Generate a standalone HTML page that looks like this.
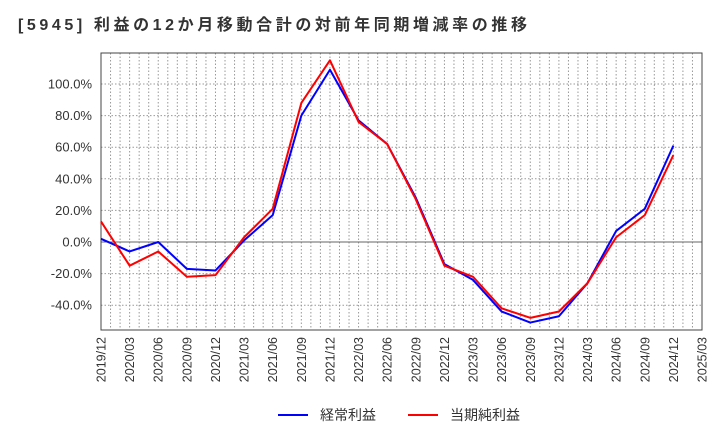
<!DOCTYPE html>
<html><head><meta charset="utf-8"><style>
body{margin:0;background:#fff;font-family:"Liberation Sans","Noto Sans CJK JP",sans-serif}
</style></head><body>
<svg id="c" width="720" height="440" xmlns="http://www.w3.org/2000/svg">
<text x="18" y="30" font-size="16" font-weight="bold" fill="#333" textLength="509" lengthAdjust="spacing" font-family="Liberation Sans,Noto Sans CJK JP,sans-serif">[5945]  利益の12か月移動合計の対前年同期増減率の推移</text>
<g id="grid"></g><g id="axes"></g><g id="series"></g>
<g>
<line x1="278" y1="415" x2="308" y2="415" stroke="#0000ff" stroke-width="2"/>
<text x="320" y="420" font-size="14" fill="#333" font-family="Liberation Sans,Noto Sans CJK JP,sans-serif">経常利益</text>
<line x1="408" y1="415" x2="438" y2="415" stroke="#ff0000" stroke-width="2"/>
<text x="450" y="420" font-size="14" fill="#333" font-family="Liberation Sans,Noto Sans CJK JP,sans-serif">当期純利益</text>
</g>
</svg>
<script>
const categories=["2019/12","2020/03","2020/06","2020/09","2020/12","2021/03","2021/06","2021/09","2021/12","2022/03","2022/06","2022/09","2022/12","2023/03","2023/06","2023/09","2023/12","2024/03","2024/06","2024/09","2024/12","2025/03"];
const ordinaryProfit=[2,-6,0,-17,-18,1,17,80,109,77,62,28,-14,-24,-44,-51,-47,-26,7,21,61];
const netProfit=[13,-15,-6,-22,-21,3,21,88,115,76,62,27,-15,-22,-42,-48,-44,-26,3,17,55];
const yTicks=[-40,-20,0,20,40,60,80,100];
const L=101,R=702,T=53,B=330;
const NS="http://www.w3.org/2000/svg";
const xs=i=>L+i*(R-L)/(categories.length-1);
const ys=v=>242-v*1.58;
function mk(parent,tag,attrs){const e=document.createElementNS(NS,tag);for(const k in attrs)e.setAttribute(k,attrs[k]);document.getElementById(parent).appendChild(e);return e;}
const sf="Liberation Sans,sans-serif";
for(let m=1;m<(categories.length-1)*3;m++){
  const x=L+m*(R-L)/((categories.length-1)*3);
  const g=mk('grid','line',{x1:x,x2:x,y1:T,y2:B,stroke:'#999','stroke-dasharray':'1.5,2','stroke-width':1});
  
  
}
yTicks.forEach(v=>{
  const y=ys(v);
  const g=mk('grid','line',{x1:L,x2:R,y1:y,y2:y,stroke:v===0?'#666':'#999','stroke-dasharray':v===0?'none':'1.5,2','stroke-width':1});
  
  
  const t=mk('axes','text',{x:L-9,y:y+4.5,'text-anchor':'end','font-size':13,fill:'#333','font-family':sf});
  t.textContent=v.toFixed(1)+'%';
  
  
});
categories.forEach((c,i)=>{
  const x=xs(i);
  const t=mk('axes','text',{x:x+4.5,y:B+7,'text-anchor':'end','font-size':12.5,fill:'#333','font-family':sf,transform:`rotate(-90 ${x+4.5} ${B+7})`});
  t.textContent=c;
  
  
});
const fr=mk('axes','rect',{x:L,y:T,width:R-L,height:B-T,fill:'none',stroke:'#444','stroke-width':1});


function line(data,color,name){
  const p=mk('series','polyline',{points:data.map((v,i)=>xs(i)+','+ys(v)).join(' '),fill:'none',stroke:color,'stroke-width':2,'stroke-linejoin':'round'});
  
  
}
line(ordinaryProfit,'#0000ff','ordinary-profit-line');
line(netProfit,'#ff0000','net-profit-line');
</script>
</body></html>
